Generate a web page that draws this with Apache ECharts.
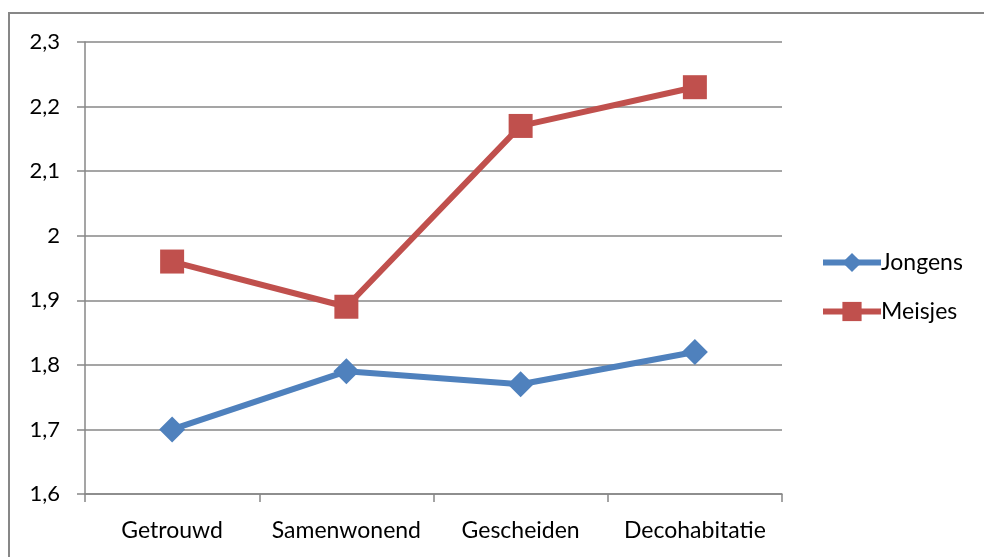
<!DOCTYPE html>
<html>
<head>
<meta charset="utf-8">
<script src="https://cdn.jsdelivr.net/npm/echarts@6/dist/echarts.min.js"></script>
<style>
  html, body { margin: 0; padding: 0; background: #fff; }
  #chart { width: 984px; height: 557px; }
</style>
</head>
<body>
<div id="chart"></div>
<script>
var categories = ['Getrouwd', 'Samenwonend', 'Gescheiden', 'Decohabitatie']
var jongens = [1.70, 1.79, 1.77, 1.82]
var meisjes = [1.96, 1.89, 2.17, 2.23]

var chart = echarts.init(document.getElementById('chart'))
var font = 'Lato, "Noto Sans", sans-serif'
var gray = '#878787'

var option = {
  animation: false,
  textStyle: { fontFamily: font },
  graphic: [
    {
      type: 'rect',
      shape: { x: 9, y: 13, width: 1000, height: 600 },
      style: { fill: 'none', stroke: gray, lineWidth: 2 }
    }
  ],
  grid: { left: 85, top: 42, right: 202, bottom: 63 },
  legend: {
    orient: 'vertical',
    left: 820,
    top: 251,
    padding: 0,
    itemGap: 26,
    itemWidth: 58,
    itemHeight: 24,
    lineStyle: { width: 6 },
    textStyle: { fontSize: 23, color: '#000', fontFamily: font, padding: [0, 0, 0, -5] },
    data: ['Jongens', 'Meisjes']
  },
  xAxis: {
    type: 'category',
    data: categories,
    boundaryGap: true,
    axisLine: { lineStyle: { color: gray, width: 1.5 } },
    axisTick: { show: true, interval: 0, length: 8, lineStyle: { color: gray, width: 1.5 } },
    axisLabel: { color: '#000', fontSize: 23, margin: 25, interval: 0, hideOverlap: false, fontFamily: font },
    splitLine: { show: false }
  },
  yAxis: {
    type: 'value',
    min: 1.6,
    max: 2.3,
    interval: 0.1,
    axisLine: { show: true, lineStyle: { color: gray, width: 1.5 } },
    axisTick: { show: true, length: 8, lineStyle: { color: gray, width: 1.5 } },
    axisLabel: {
      color: '#000',
      fontSize: 22,
      margin: 25,
      fontFamily: font,
      formatter: function (v) {
        return (Math.round(v * 10) / 10).toString().replace('.', ',')
      }
    },
    splitLine: { lineStyle: { color: gray, width: 1.5 } }
  },
  series: [
    {
      name: 'Jongens',
      type: 'line',
      data: jongens,
      symbol: 'diamond',
      symbolSize: 26,
      itemStyle: { color: '#4F81BD' },
      lineStyle: { color: '#4F81BD', width: 6 }
    },
    {
      name: 'Meisjes',
      type: 'line',
      data: meisjes,
      symbol: 'rect',
      symbolSize: 24,
      itemStyle: { color: '#C0504D' },
      lineStyle: { color: '#C0504D', width: 6 }
    }
  ]
}

chart.setOption(option)
</script>
</body>
</html>
